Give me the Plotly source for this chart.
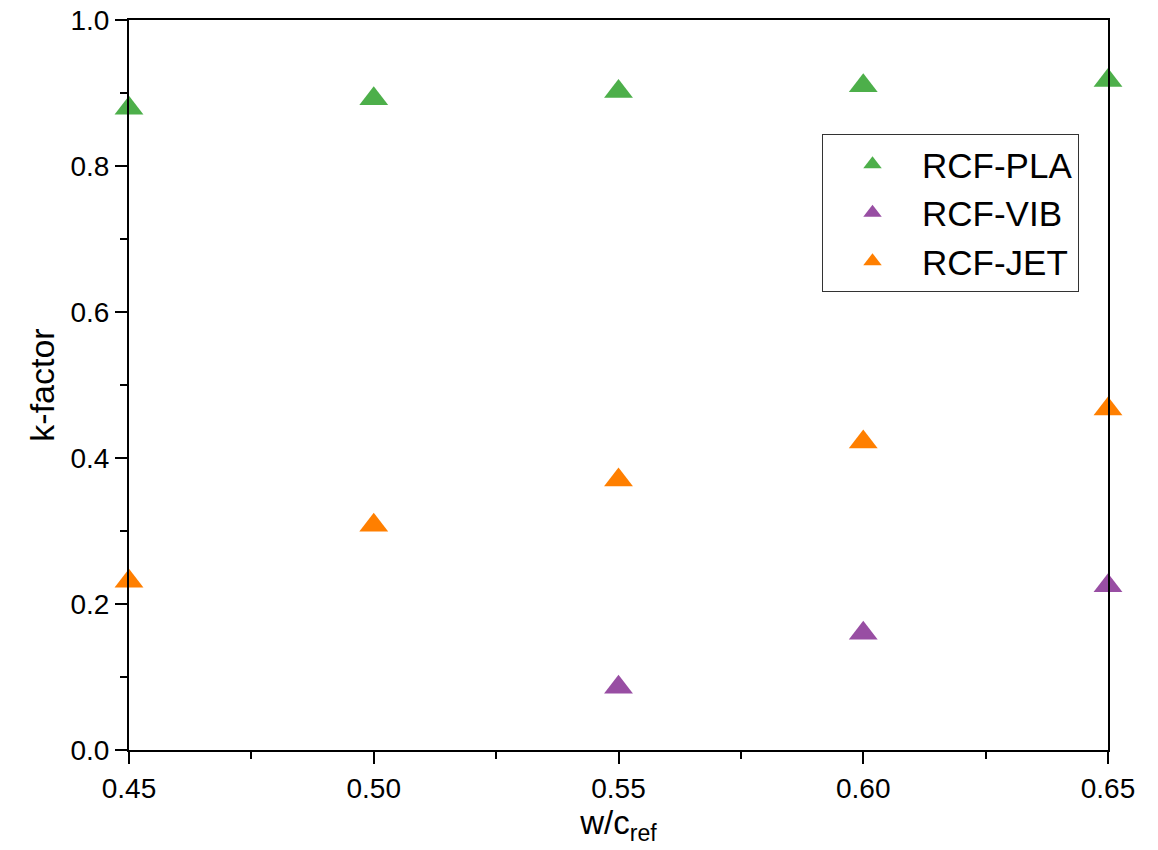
import plotly.graph_objects as go

x_vals = [0.45, 0.50, 0.55, 0.60, 0.65]
pla = [0.879, 0.892, 0.902, 0.910, 0.917]
vib_x = [0.55, 0.60, 0.65]
vib = [0.086, 0.160, 0.225]
jet = [0.231, 0.308, 0.370, 0.422, 0.467]

names = ["RCF-PLA", "RCF-VIB", "RCF-JET"]
colors = ["#4DAF4A", "#984EA3", "#FF7F00"]

font_family = "Liberation Sans, Arial, sans-serif"

fig = go.Figure()
for i, (xs, ys) in enumerate([(x_vals, pla), (vib_x, vib), (x_vals, jet)]):
    fig.add_trace(go.Scatter(
        x=xs, y=ys, mode="markers", name=names[i],
        marker=dict(symbol="triangle-up", size=25, color=colors[i], line=dict(width=0)),
        cliponaxis=False,
    ))

axis_common = dict(
    showgrid=False, zeroline=False, showline=True, linecolor="black", linewidth=2,
    mirror=True, ticks="outside", ticklen=12, tickwidth=2, tickcolor="black",
    tickfont=dict(size=28, color="black", family=font_family),
    ticklabeloverflow="allow",
)

fig.update_xaxes(
    range=[0.45, 0.65], tickvals=[0.45, 0.50, 0.55, 0.60, 0.65],
    ticktext=["0.45", "0.50", "0.55", "0.60", "0.65"],
    minor=dict(ticks="outside", ticklen=7, tickwidth=2, tickcolor="black",
               tickvals=[0.475, 0.525, 0.575, 0.625]),
    title=dict(text="w/c<sub>ref</sub>", font=dict(size=33, color="black", family=font_family), standoff=6),
    **axis_common,
)
fig.update_yaxes(
    range=[0, 1.0], tickvals=[0, 0.2, 0.4, 0.6, 0.8, 1.0],
    ticktext=["0.0", "0.2", "0.4", "0.6", "0.8", "1.0"],
    minor=dict(ticks="outside", ticklen=7, tickwidth=2, tickcolor="black",
               tickvals=[0.1, 0.3, 0.5, 0.7, 0.9]),
    title=dict(text="k-factor", font=dict(size=34, color="black", family=font_family), standoff=6),
    **axis_common,
)

fig.update_layout(
    width=1158, height=850,
    margin=dict(l=129, r=50, t=20, b=100, autoexpand=False),
    plot_bgcolor="white", paper_bgcolor="white",
    font=dict(family=font_family, color="black"),
    legend=dict(
        x=(822 - 129) / (1108 - 129), y=1 - (134 - 20) / 730,
        xanchor="left", yanchor="top",
        bordercolor="#333333", borderwidth=1, bgcolor="white",
        font=dict(size=35, color="black", family=font_family),
        itemwidth=89,
    ),
)

fig.write_html("out.html", config={"displayModeBar": False},
               post_script="document.body.style.margin='0px';")
